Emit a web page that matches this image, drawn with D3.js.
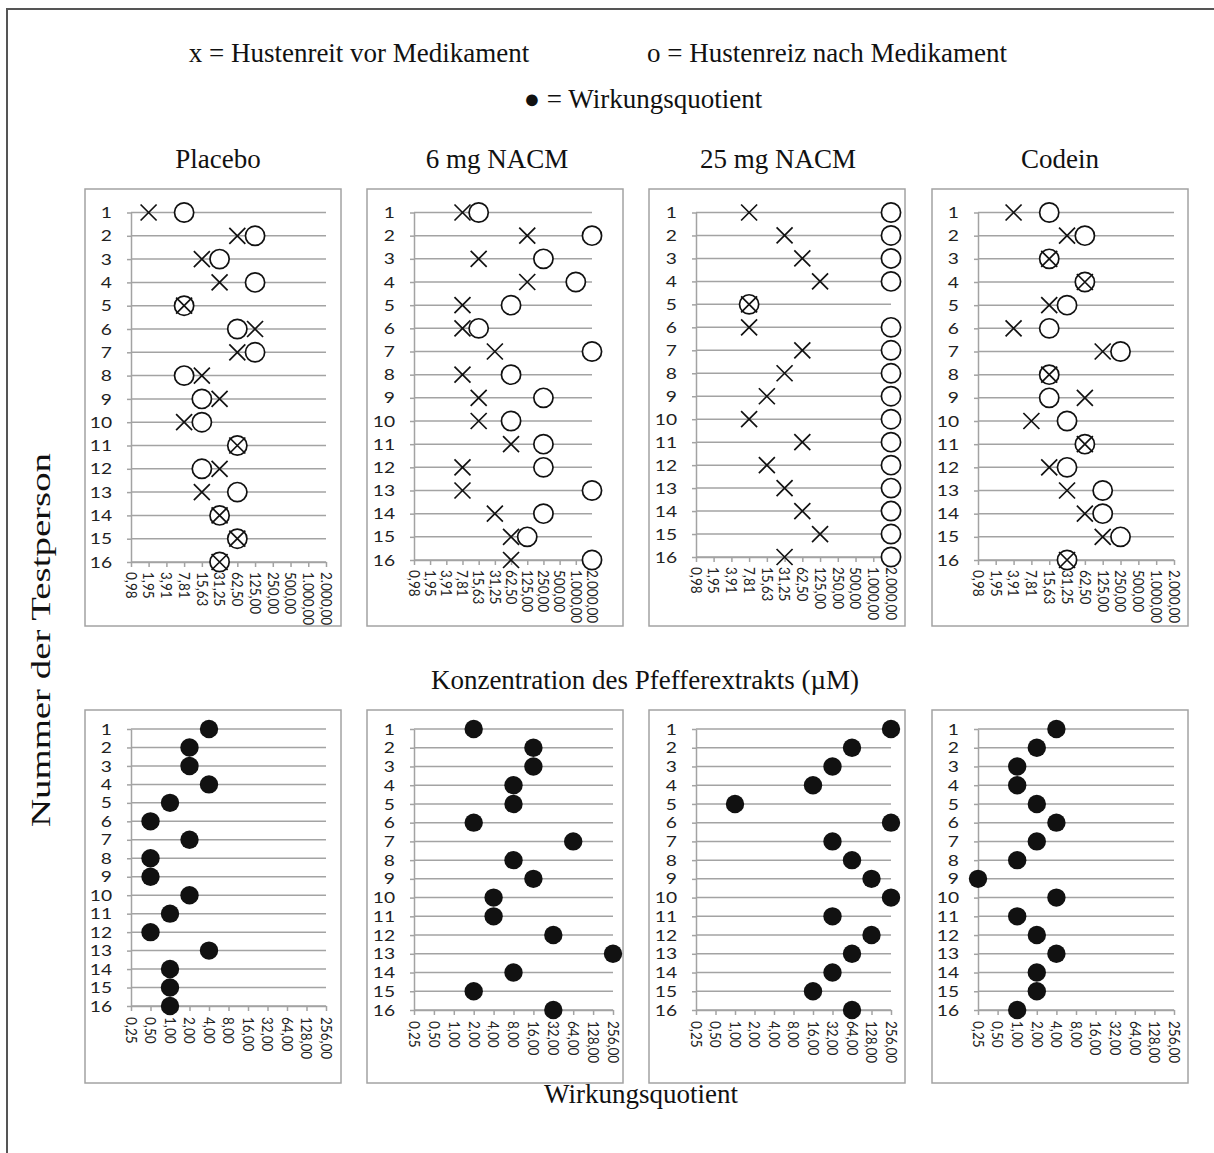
<!DOCTYPE html>
<html>
<head>
<meta charset="utf-8">
<script src="https://cdn.jsdelivr.net/npm/d3@7"></script>
<style>
  body { margin: 0; background: #fff; }
  svg { display: block; }
</style>
</head>
<body>
<svg id="chart" width="1214" height="1153"></svg>
<script>
// ---- data -------------------------------------------------------------
const groups = ["Placebo", "6 mg NACM", "25 mg NACM", "Codein"];
const persons = ["1","2","3","4","5","6","7","8","9","10","11","12","13","14","15","16"];

// concentration axis ticks (µM) and effect quotient axis ticks
const concTicks = [0.98, 1.95, 3.91, 7.81, 15.63, 31.25, 62.5, 125, 250, 500, 1000, 2000];
const quotTicks = [0.25, 0.5, 1, 2, 4, 8, 16, 32, 64, 128, 256];

// cough threshold before the drug (x)
const placeboVor = [1.95, 62.5, 15.63, 31.25, 7.81, 125, 62.5, 15.63, 31.25, 7.81, 62.5, 31.25, 15.63, 31.25, 62.5, 31.25];
const nacm6Vor   = [7.81, 125, 15.63, 125, 7.81, 7.81, 31.25, 7.81, 15.63, 15.63, 62.5, 7.81, 7.81, 31.25, 62.5, 62.5];
const nacm25Vor  = [7.81, 31.25, 62.5, 125, 7.81, 7.81, 62.5, 31.25, 15.63, 7.81, 62.5, 15.63, 31.25, 62.5, 125, 31.25];
const codeinVor  = [3.91, 31.25, 15.63, 62.5, 15.63, 3.91, 125, 15.63, 62.5, 7.81, 62.5, 15.63, 31.25, 62.5, 125, 31.25];

// cough threshold after the drug (o)
const placeboNach = [7.81, 125, 31.25, 125, 7.81, 62.5, 125, 7.81, 15.63, 15.63, 62.5, 15.63, 62.5, 31.25, 62.5, 31.25];
const nacm6Nach   = [15.63, 2000, 250, 1000, 62.5, 15.63, 2000, 62.5, 250, 62.5, 250, 250, 2000, 250, 125, 2000];
const nacm25Nach  = [2000, 2000, 2000, 2000, 7.81, 2000, 2000, 2000, 2000, 2000, 2000, 2000, 2000, 2000, 2000, 2000];
const codeinNach  = [15.63, 62.5, 15.63, 62.5, 31.25, 15.63, 250, 15.63, 15.63, 31.25, 62.5, 31.25, 125, 125, 250, 31.25];

// effect quotient (filled dots)
const placeboQuot = [4, 2, 2, 4, 1, 0.5, 2, 0.5, 0.5, 2, 1, 0.5, 4, 1, 1, 1];
const nacm6Quot   = [2, 16, 16, 8, 8, 2, 64, 8, 16, 4, 4, 32, 256, 8, 2, 32];
const nacm25Quot  = [256, 64, 32, 16, 1, 256, 32, 64, 128, 256, 32, 128, 64, 32, 16, 64];
const codeinQuot  = [4, 2, 1, 1, 2, 4, 2, 1, 0.25, 4, 1, 2, 4, 2, 2, 1];

const vorSeries  = [placeboVor, nacm6Vor, nacm25Vor, codeinVor];
const nachSeries = [placeboNach, nacm6Nach, nacm25Nach, codeinNach];
const quotSeries = [placeboQuot, nacm6Quot, nacm25Quot, codeinQuot];

// ---- layout -----------------------------------------------------------
const boxX = [85, 367, 649, 932], boxW = 256;
const topBox = { y: 189, h: 437 }, botBox = { y: 710, h: 373 };
const plotLeft = [131, 414, 696, 978];
const topRight = [326, 592, 891, 1174];
const botRight = [326, 613, 891, 1174];
const topRowFirst = 212.5, topRowLast = [562, 560, 557, 560];
const botRowFirst = 729,   botRowLast = [1006, 1010, 1010, 1010];

const serif = "'Liberation Serif', 'Times New Roman', serif";
const sans  = "Lato, 'Open Sans', sans-serif";
const gridColor = "#a3a3a3";
const inkColor = "#111";
const numStretch = 1.2;   // wide numerals on the axes

const de = d3.formatLocale({ decimal: ",", thousands: ".", grouping: [3], currency: ["", " €"] });
const fmt = de.format(",.2f");

const svg = d3.select("#chart");

// outer frame
svg.append("path")
  .attr("d", "M7,1153 L7,9 L1214,9")
  .attr("fill", "none").attr("stroke", "#555").attr("stroke-width", 2);

// ---- headings ---------------------------------------------------------
function label(x, y, text, size, anchor = "middle") {
  return svg.append("text")
    .attr("x", x).attr("y", y)
    .attr("text-anchor", anchor)
    .attr("font-family", serif).attr("font-size", size)
    .attr("fill", inkColor)
    .text(text);
}
label(359, 62, "x = Hustenreit vor Medikament", 27);
label(827, 62, "o = Hustenreiz nach Medikament", 27);
label(643, 108, "● = Wirkungsquotient", 27);
const colCenters = [218, 497, 778, 1060];
groups.forEach((g, i) => label(colCenters[i], 168, g, 27));
label(645, 689, "Konzentration des Pfefferextrakts (µM)", 27);
label(641, 1103, "Wirkungsquotient", 27);
svg.append("text")
  .attr("transform", "translate(50,640) rotate(-90)")
  .attr("text-anchor", "middle")
  .attr("font-family", serif).attr("font-size", 27)
  .attr("textLength", 374).attr("lengthAdjust", "spacingAndGlyphs")
  .attr("fill", inkColor)
  .text("Nummer der Testperson");

// ---- panels -----------------------------------------------------------
function styleAxis(g) {
  g.selectAll(".domain").attr("stroke", gridColor).attr("stroke-width", 1.5);
  g.selectAll(".tick line").attr("stroke", gridColor).attr("stroke-width", 1.5);
  g.selectAll("text").attr("fill", "#222").attr("font-family", sans);
}

function panel(i, box, x, y, ticks, xLabelOffset) {
  const g = svg.append("g");
  g.append("rect")
    .attr("x", boxX[i]).attr("y", box.y).attr("width", boxW).attr("height", box.h)
    .attr("fill", "#fff").attr("stroke", gridColor).attr("stroke-width", 1.5);

  // horizontal grid lines, one per person
  g.append("g").selectAll("line").data(persons).join("line")
    .attr("x1", x.range()[0]).attr("x2", x.range()[1])
    .attr("y1", d => y(d)).attr("y2", d => y(d))
    .attr("stroke", gridColor).attr("stroke-width", 1.5);

  const yAxis = g.append("g")
    .attr("transform", `translate(${x.range()[0]},0)`)
    .call(d3.axisLeft(y).tickSize(4).tickSizeOuter(0));
  styleAxis(yAxis);
  yAxis.selectAll("text")
    .attr("font-size", 16)
    .attr("x", -19 / numStretch)
    .attr("transform", `scale(${numStretch},1)`);

  const xAxis = g.append("g")
    .attr("transform", `translate(0,${y.range()[1]})`)
    .call(d3.axisBottom(x).tickValues(ticks).tickFormat(fmt).tickSize(5).tickSizeOuter(0));
  styleAxis(xAxis);
  xAxis.selectAll("text")
    .attr("font-size", 13.5)
    .attr("transform", `rotate(90) scale(1,${numStretch})`)
    .attr("text-anchor", "start")
    .attr("x", xLabelOffset).attr("y", 0).attr("dy", "0.35em");
  return g;
}

groups.forEach((grp, i) => {
  // top row: cough threshold before/after
  const xc = d3.scaleLog().base(2)
    .domain([concTicks[0], concTicks[concTicks.length - 1]])
    .range([plotLeft[i], topRight[i]]);
  const yc = d3.scalePoint().domain(persons).range([topRowFirst, topRowLast[i]]);
  const gt = panel(i, topBox, xc, yc, concTicks, 10);

  gt.append("g").selectAll("circle")
    .data(nachSeries[i].map((v, k) => ({ v, p: persons[k] })))
    .join("circle")
    .attr("cx", d => xc(d.v)).attr("cy", d => yc(d.p)).attr("r", 9.6)
    .attr("fill", "#fff").attr("stroke", inkColor).attr("stroke-width", 1.7);

  const s = 8;
  gt.append("g").selectAll("path")
    .data(vorSeries[i].map((v, k) => ({ v, p: persons[k] })))
    .join("path")
    .attr("transform", d => `translate(${xc(d.v)},${yc(d.p)})`)
    .attr("d", `M${-s},${-s}L${s},${s}M${-s},${s}L${s},${-s}`)
    .attr("fill", "none").attr("stroke", inkColor).attr("stroke-width", 1.7);

  // bottom row: effect quotient
  const xq = d3.scaleLog().base(2)
    .domain([quotTicks[0], quotTicks[quotTicks.length - 1]])
    .range([plotLeft[i], botRight[i]]);
  const yq = d3.scalePoint().domain(persons).range([botRowFirst, botRowLast[i]]);
  const gb = panel(i, botBox, xq, yq, quotTicks, 11);

  gb.append("g").selectAll("circle")
    .data(quotSeries[i].map((v, k) => ({ v, p: persons[k] })))
    .join("circle")
    .attr("cx", d => xq(d.v)).attr("cy", d => yq(d.p)).attr("r", 9.2)
    .attr("fill", inkColor);
});
</script>
</body>
</html>
